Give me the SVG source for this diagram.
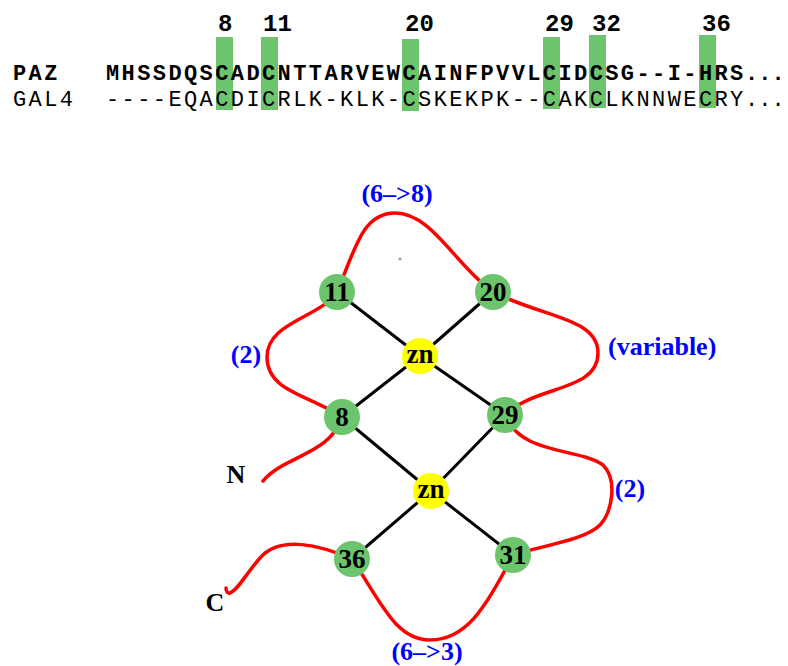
<svg xmlns="http://www.w3.org/2000/svg" width="788" height="666" viewBox="0 0 788 666">
<style>
.seq{font-family:"Liberation Mono","Courier New",monospace;font-size:22px;letter-spacing:2.4px;fill:#000}
.dots{font-family:"Liberation Mono","Courier New",monospace;font-size:22px;letter-spacing:0px;fill:#000}
.b{font-weight:bold}
.num{font-family:"Liberation Mono","Courier New",monospace;font-size:24px;font-weight:bold;fill:#000}
.hl{fill:#6cc46c}
.cys{fill:#6cc46c}
.zn{fill:#ffff00}
.nl{font-family:"Liberation Serif","Times New Roman",serif;font-size:27px;font-weight:bold;fill:#000;text-anchor:middle}
.end{font-family:"Liberation Serif","Times New Roman",serif;font-size:26px;font-weight:bold;fill:#000;text-anchor:middle}
.lab{font-family:"Liberation Serif","Times New Roman",serif;font-size:26px;font-weight:bold;fill:#0000ff;text-anchor:middle}
.bond{stroke:#000;stroke-width:3;fill:none}
.chain{stroke:#ff0000;stroke-width:3.5;fill:none;stroke-linecap:round}
</style>
<rect width="788" height="666" fill="#fff"/>
<g id="alignment">
<rect class="hl" x="216" y="37" width="17" height="73"/>
<rect class="hl" x="261" y="37" width="17" height="73"/>
<rect class="hl" x="402" y="39" width="17" height="72"/>
<rect class="hl" x="543" y="37" width="17" height="72"/>
<rect class="hl" x="589" y="35" width="17" height="73"/>
<rect class="hl" x="699" y="35" width="17" height="73"/>
<text class="num" x="218" y="31">8</text>
<text class="num" x="263" y="31">11</text>
<text class="num" x="405" y="31">20</text>
<text class="num" x="545" y="31">29</text>
<text class="num" x="592" y="31">32</text>
<text class="num" x="702" y="31">36</text>
<text class="seq b" x="13" y="80">PAZ</text>
<text class="seq b" x="106" y="80">MHSSDQSCADCNTTARVEWCAINFPVVLCIDCSG--I-HRS</text>
<text class="dots b" x="745" y="80">...</text>
<text class="seq" x="13" y="106">GAL4</text>
<text class="seq" x="106" y="106">----EQACDICRLK-KLK-CSKEKPK--CAKCLKNNWECRY</text>
<text class="dots" x="745" y="106">...</text>
</g>
<g id="connectors">
<path class="chain" d="M263,481 C285,455 330,455 342,417 C310,395 267,392 267,357 C267,322 320,318 337,292 C355,250 362,213 395,213 C432,213 455,265 493,292 C545,318 598,318 598,353 C598,392 535,385 505,415 C520,455 580,448 603,465 C618,480 612,512 600,525 C585,540 545,545 513,555 C485,610 465,640 430,640 C395,640 380,600 352,559 C320,545 280,535 260,558 C245,575 238,590 230,593 C227,594 226,590 226,588"/>
<line class="bond" x1="337" y1="292" x2="420" y2="356"/>
<line class="bond" x1="493" y1="292" x2="420" y2="356"/>
<line class="bond" x1="342" y1="417" x2="420" y2="356"/>
<line class="bond" x1="505" y1="415" x2="420" y2="356"/>
<line class="bond" x1="342" y1="417" x2="431" y2="491"/>
<line class="bond" x1="505" y1="415" x2="431" y2="491"/>
<line class="bond" x1="352" y1="559" x2="431" y2="491"/>
<line class="bond" x1="513" y1="555" x2="431" y2="491"/>
</g>
<circle cx="400" cy="259" r="1.5" fill="#999"/>
<g id="c11"><circle class="cys" cx="337" cy="292" r="18"/><text class="nl" x="337" y="301">11</text></g>
<g id="c20"><circle class="cys" cx="493" cy="292" r="18"/><text class="nl" x="493" y="301">20</text></g>
<g id="zn1"><circle class="zn" cx="420" cy="356" r="18"/><text class="nl" x="420" y="363">zn</text></g>
<g id="c8"><circle class="cys" cx="342" cy="417" r="18"/><text class="nl" x="342" y="426">8</text></g>
<g id="c29"><circle class="cys" cx="505" cy="415" r="18"/><text class="nl" x="505" y="424">29</text></g>
<g id="zn2"><circle class="zn" cx="431" cy="491" r="18"/><text class="nl" x="431" y="498">zn</text></g>
<g id="c36"><circle class="cys" cx="352" cy="559" r="18"/><text class="nl" x="352" y="568">36</text></g>
<g id="c31"><circle class="cys" cx="513" cy="555" r="18"/><text class="nl" x="513" y="564">31</text></g>
<g id="labels">
<text class="lab" x="397" y="202">(6–&gt;8)</text>
<text class="lab" x="246" y="363">(2)</text>
<text class="lab" x="608" y="355" style="text-anchor:start">(variable)</text>
<text class="lab" x="630" y="497">(2)</text>
<text class="lab" x="427" y="660">(6–&gt;3)</text>
<text class="end" x="236" y="483">N</text>
<text class="end" x="215" y="611">C</text>
</g>
</svg>
